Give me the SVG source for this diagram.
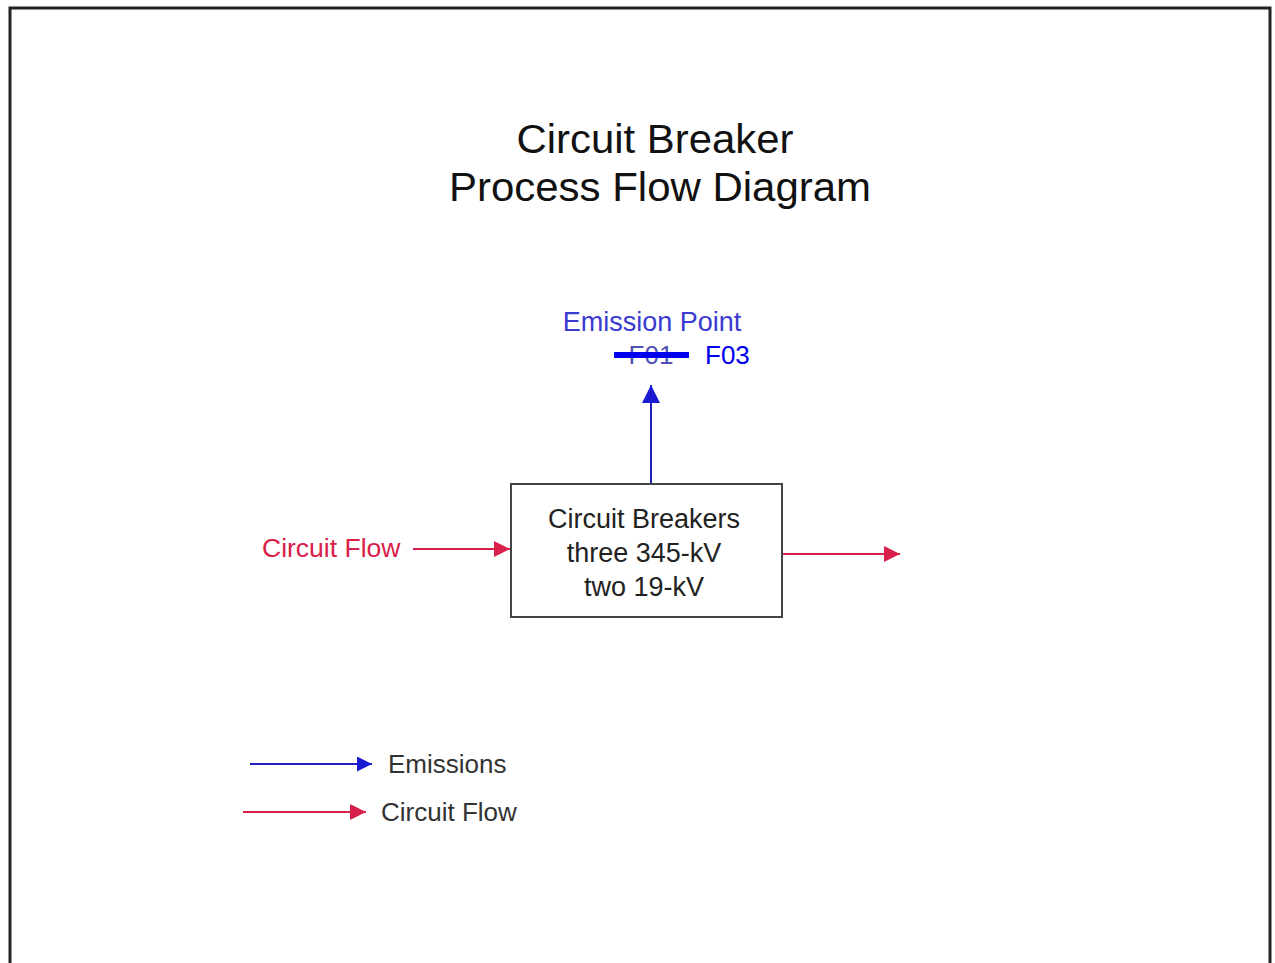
<svg xmlns="http://www.w3.org/2000/svg" width="1275" height="963" viewBox="0 0 1275 963">
<style>
text{font-family:"Liberation Sans",Arial,sans-serif}
.title{font-size:40px;fill:#111;text-anchor:middle}
.box{fill:#fff;stroke:#444;stroke-width:2}
.bt{font-size:27px;fill:#222;text-anchor:middle}
.blue{stroke:#2020c0;stroke-width:2;fill:none}
.red{stroke:#d8204a;stroke-width:2;fill:none}
.leg{font-size:26px;fill:#333}
</style>
<defs>
<marker id="abL" viewBox="0 0 10 10" refX="10" refY="5" markerWidth="18" markerHeight="18" markerUnits="userSpaceOnUse" orient="auto"><path d="M0,0L10,5L0,10z" fill="#1a1ad0"/></marker>
<marker id="ab" viewBox="0 0 10 10" refX="10" refY="5" markerWidth="15" markerHeight="15" markerUnits="userSpaceOnUse" orient="auto"><path d="M0,0L10,5L0,10z" fill="#1a1ad0"/></marker>
<marker id="ar" viewBox="0 0 10 10" refX="10" refY="5" markerWidth="16" markerHeight="16" markerUnits="userSpaceOnUse" orient="auto"><path d="M0,0L10,5L0,10z" fill="#d8204a"/></marker>
</defs>
<rect width="1275" height="963" fill="#fff"/>
<path d="M10,970V8H1270V970" fill="none" stroke="#222" stroke-width="3"/>
<g id="title">
<text class="title" x="655" y="153" textLength="277" lengthAdjust="spacingAndGlyphs">Circuit Breaker</text>
<text class="title" x="660" y="201" textLength="422" lengthAdjust="spacingAndGlyphs">Process Flow Diagram</text>
</g>
<g id="emission-point">
<text x="652" y="331" font-size="27" fill="#3a3ad0" text-anchor="middle">Emission Point</text>
<text x="651" y="364" font-size="26" fill="#5050b0" text-anchor="middle">F01</text>
<rect x="614" y="352" width="75" height="6" fill="#0000ee"/>
<text x="705" y="364" font-size="26" fill="#0000ee">F03</text>
</g>
<g id="circuit-breakers">
<rect class="box" x="511" y="484" width="271" height="133"/>
<text class="bt" x="644" y="528">Circuit Breakers</text>
<text class="bt" x="644" y="562">three 345-kV</text>
<text class="bt" x="644" y="596">two 19-kV</text>
</g>
<g id="circuit-flow-in">
<text x="262" y="557" font-size="26.5" fill="#d8204a">Circuit Flow</text>
</g>
<g id="connectors">
<line class="blue" x1="651" y1="483" x2="651" y2="385" marker-end="url(#abL)"/>
<line class="red" x1="413" y1="549" x2="510" y2="549" marker-end="url(#ar)"/>
<line class="red" x1="783" y1="554" x2="900" y2="554" marker-end="url(#ar)"/>
</g>
<g id="legend">
<line class="blue" x1="250" y1="764" x2="372" y2="764" marker-end="url(#ab)"/>
<text class="leg" x="388" y="773">Emissions</text>
<line class="red" x1="243" y1="812" x2="366" y2="812" marker-end="url(#ar)"/>
<text class="leg" x="381" y="821">Circuit Flow</text>
</g>
</svg>
